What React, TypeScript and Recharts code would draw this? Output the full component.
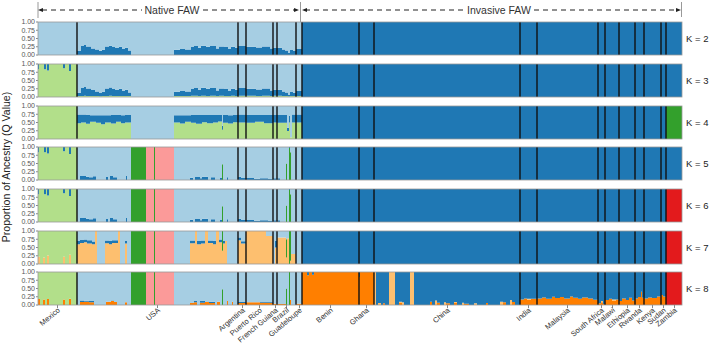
import React from "react";
import { BarChart, Bar, XAxis, YAxis, ReferenceLine } from "recharts";

type Key = "o" | "lo" | "lg" | "g" | "pk" | "r" | "db" | "lb";
type Q = Partial<Record<Key, number>>;
type Run = [number, Q];

// stacking order, bottom to top
const keys: Key[] = ["o", "lo", "lg", "g", "pk", "r", "db", "lb"];
const colors: Record<Key, string> = {
  o: "#ff7f00",
  lo: "#fdbf6f",
  lg: "#b2df8a",
  g: "#33a02c",
  pk: "#fb9a99",
  r: "#e31a1c",
  db: "#1f78b4",
  lb: "#a6cee3",
};

const populations = [
  "Mexico", "USA", "Argentina", "Puerto Rico", "French Guiana", "Brazil", "Guadeloupe",
  "Benin", "Ghana", "China", "India", "Malaysia", "South Africa", "Malawi", "Ethiopia",
  "Rwanda", "Kenya", "Sudan", "Zambia",
];
const popSizes = [39, 161, 8, 27, 4, 19, 6, 57, 15, 146, 17, 61, 7, 14, 16, 9, 17, 5, 16];
const kLabels = ["K = 2", "K = 3", "K = 4", "K = 5", "K = 6", "K = 7", "K = 8"];
const yTicks = [0, 0.25, 0.5, 0.75, 1];

// a run this long just fills whatever is left of its population
const REST = 1000;
const full = (q: Q): Run[] => [[REST, q]];
const invasive = (zambia: Run[]): Run[][] => [
  ...Array.from({ length: 11 }, () => full({ db: 1 })),
  zambia,
];

// ---- K = 2 ----
const k2UsaA: Run[] = [
  [4, { db: 0.12, lb: 0.88 }], [3, { db: 0.27, lb: 0.73 }], [2, { db: 0.3, lb: 0.7 }],
  [5, { db: 0.26, lb: 0.74 }], [4, { db: 0.2, lb: 0.8 }], [4, { db: 0.17, lb: 0.83 }],
  [3, { db: 0.13, lb: 0.87 }], [3, { db: 0.16, lb: 0.84 }], [4, { db: 0.26, lb: 0.74 }],
  [3, { db: 0.28, lb: 0.72 }], [3, { db: 0.24, lb: 0.76 }], [4, { db: 0.21, lb: 0.79 }],
  [3, { db: 0.25, lb: 0.75 }], [3, { db: 0.18, lb: 0.82 }], [3, { db: 0.22, lb: 0.78 }],
  [3, { db: 0.14, lb: 0.86 }],
];
const k2UsaB: Run[] = [
  [6, { db: 0.16, lb: 0.84 }], [5, { db: 0.18, lb: 0.82 }], [6, { db: 0.17, lb: 0.83 }],
  [3, { db: 0.24, lb: 0.76 }], [4, { db: 0.27, lb: 0.73 }], [3, { db: 0.22, lb: 0.78 }],
  [5, { db: 0.28, lb: 0.72 }], [4, { db: 0.25, lb: 0.75 }], [6, { db: 0.27, lb: 0.73 }],
  [3, { db: 0.2, lb: 0.8 }], [5, { db: 0.26, lb: 0.74 }], [4, { db: 0.24, lb: 0.76 }],
  [3, { db: 0.18, lb: 0.82 }], [4, { db: 0.25, lb: 0.75 }], [3, { db: 0.22, lb: 0.78 }],
];
const k2: Run[][] = [
  full({ lb: 1 }),
  [...k2UsaA, [43, { lb: 1 }], ...k2UsaB],
  [[8, { db: 0.27, lb: 0.73 }]],
  [[10, { db: 0.25, lb: 0.75 }], [6, { db: 0.23, lb: 0.77 }], [8, { db: 0.26, lb: 0.74 }], [3, { db: 0.2, lb: 0.8 }]],
  [[4, { db: 0.22, lb: 0.78 }]],
  [[5, { db: 0.22, lb: 0.78 }], [3, { db: 0.17, lb: 0.83 }], [3, { db: 0.14, lb: 0.86 }],
   [2, { db: 0.06, lb: 0.94 }], [3, { db: 0.15, lb: 0.85 }], [3, { db: 0.12, lb: 0.88 }]],
  [[6, { db: 0.18, lb: 0.82 }]],
  ...invasive(full({ db: 1 })),
];

// ---- K = 3 ----
const mexDbTop: Run[] = [
  [1, { lg: 0.84, db: 0.16 }], [5, { lg: 1 }], [2, { lg: 0.84, db: 0.16 }], [1, { lg: 1 }],
  [2, { lg: 0.8, db: 0.2 }], [14, { lg: 1 }], [2, { lg: 0.87, db: 0.13 }], [4, { lg: 1 }],
  [2, { lg: 0.79, db: 0.21 }], [6, { lg: 1 }],
];
const k3UsaA: Run[] = [
  [4, { lg: 0.03, db: 0.1, lb: 0.87 }], [3, { lg: 0.03, db: 0.24, lb: 0.73 }], [2, { lg: 0.04, db: 0.26, lb: 0.7 }],
  [5, { lg: 0.03, db: 0.23, lb: 0.74 }], [4, { lg: 0.03, db: 0.18, lb: 0.79 }], [4, { lg: 0.03, db: 0.14, lb: 0.83 }],
  [3, { lg: 0.02, db: 0.1, lb: 0.88 }], [3, { lg: 0.03, db: 0.13, lb: 0.84 }], [4, { lg: 0.03, db: 0.23, lb: 0.74 }],
  [3, { lg: 0.04, db: 0.25, lb: 0.71 }], [3, { lg: 0.03, db: 0.21, lb: 0.76 }], [4, { lg: 0.03, db: 0.18, lb: 0.79 }],
  [3, { lg: 0.03, db: 0.22, lb: 0.75 }], [3, { lg: 0.03, db: 0.15, lb: 0.82 }], [3, { lg: 0.03, db: 0.19, lb: 0.78 }],
  [3, { lg: 0.03, db: 0.11, lb: 0.86 }],
];
const k3UsaB: Run[] = [
  [6, { lg: 0.03, db: 0.13, lb: 0.84 }], [5, { lg: 0.03, db: 0.15, lb: 0.82 }], [6, { lg: 0.03, db: 0.14, lb: 0.83 }],
  [3, { lg: 0.04, db: 0.2, lb: 0.76 }], [4, { lg: 0.04, db: 0.23, lb: 0.73 }], [3, { lg: 0.03, db: 0.19, lb: 0.78 }],
  [5, { lg: 0.04, db: 0.24, lb: 0.72 }], [4, { lg: 0.03, db: 0.22, lb: 0.75 }], [6, { lg: 0.04, db: 0.23, lb: 0.73 }],
  [3, { lg: 0.03, db: 0.17, lb: 0.8 }], [5, { lg: 0.04, db: 0.22, lb: 0.74 }], [4, { lg: 0.03, db: 0.21, lb: 0.76 }],
  [3, { lg: 0.03, db: 0.15, lb: 0.82 }], [4, { lg: 0.04, db: 0.21, lb: 0.75 }], [3, { lg: 0.03, db: 0.19, lb: 0.78 }],
];
const k3: Run[][] = [
  mexDbTop,
  [...k3UsaA, [43, { lb: 1 }], ...k3UsaB],
  [[8, { lg: 0.04, db: 0.23, lb: 0.73 }]],
  [[10, { lg: 0.04, db: 0.21, lb: 0.75 }], [6, { lg: 0.03, db: 0.2, lb: 0.77 }],
   [8, { lg: 0.04, db: 0.22, lb: 0.74 }], [3, { lg: 0.03, db: 0.17, lb: 0.8 }]],
  [[4, { lg: 0.04, db: 0.18, lb: 0.78 }]],
  [[5, { lg: 0.04, db: 0.18, lb: 0.78 }], [3, { lg: 0.03, db: 0.14, lb: 0.83 }], [3, { lg: 0.03, db: 0.11, lb: 0.86 }],
   [2, { lg: 0.02, db: 0.04, lb: 0.94 }], [3, { lg: 0.03, db: 0.12, lb: 0.85 }], [3, { lg: 0.03, db: 0.1, lb: 0.87 }]],
  [[6, { lg: 0.03, db: 0.15, lb: 0.82 }]],
  ...invasive(full({ db: 1 })),
];

// ---- K = 4 ----
const k4UsaA: Run[] = [
  [4, { lg: 0.48, db: 0.26, lb: 0.26 }], [5, { lg: 0.5, db: 0.24, lb: 0.26 }], [4, { lg: 0.46, db: 0.27, lb: 0.27 }],
  [6, { lg: 0.52, db: 0.2, lb: 0.28 }], [5, { lg: 0.49, db: 0.23, lb: 0.28 }], [4, { lg: 0.45, db: 0.27, lb: 0.28 }],
  [6, { lg: 0.5, db: 0.22, lb: 0.28 }], [5, { lg: 0.47, db: 0.26, lb: 0.27 }], [5, { lg: 0.52, db: 0.21, lb: 0.27 }],
  [4, { lg: 0.48, db: 0.24, lb: 0.28 }], [6, { lg: 0.5, db: 0.23, lb: 0.27 }],
];
const k4UsaB: Run[] = [
  [6, { lg: 0.5, db: 0.22, lb: 0.28 }], [5, { lg: 0.47, db: 0.25, lb: 0.28 }], [6, { lg: 0.52, db: 0.2, lb: 0.28 }],
  [5, { lg: 0.49, db: 0.24, lb: 0.27 }], [6, { lg: 0.46, db: 0.27, lb: 0.27 }], [5, { lg: 0.51, db: 0.22, lb: 0.27 }],
  [6, { lg: 0.48, db: 0.25, lb: 0.27 }], [5, { lg: 0.5, db: 0.23, lb: 0.27 }], [4, { lg: 0.53, db: 0.2, lb: 0.27 }],
  [1, { lg: 0.28, db: 0.12, lb: 0.6 }], [5, { lg: 0.49, db: 0.24, lb: 0.27 }], [5, { lg: 0.47, db: 0.25, lb: 0.28 }],
  [5, { lg: 0.51, db: 0.22, lb: 0.27 }],
];
const k4: Run[][] = [
  full({ lg: 1 }),
  [...k4UsaA, [43, { lb: 1 }], ...k4UsaB],
  [[8, { lg: 0.5, db: 0.24, lb: 0.26 }]],
  [[9, { lg: 0.49, db: 0.24, lb: 0.27 }], [9, { lg: 0.52, db: 0.21, lb: 0.27 }], [9, { lg: 0.48, db: 0.25, lb: 0.27 }]],
  [[4, { lg: 0.5, db: 0.23, lb: 0.27 }]],
  [[10, { lg: 0.49, db: 0.24, lb: 0.27 }], [2, { lg: 0.24, db: 0.1, lb: 0.66 }], [1, { lg: 0.5, db: 0.2, lb: 0.3 }],
   [2, { lg: 0.05, lb: 0.95 }], [4, { lg: 0.5, db: 0.24, lb: 0.26 }]],
  [[6, { lg: 0.5, db: 0.24, lb: 0.26 }]],
  ...invasive(full({ g: 1 })),
];

// ---- K = 5 / K = 6 ----
const usaMid: Run[] = [[15, { g: 1 }], [8, { pk: 1 }], [1, { g: 1 }], [19, { pk: 1 }]];
const k5UsaA: Run[] = [
  [3, { lb: 1 }], [6, { db: 0.12, lb: 0.88 }], [3, { db: 0.1, lb: 0.9 }], [4, { db: 0.08, lb: 0.92 }],
  [3, { db: 0.11, lb: 0.89 }], [10, { lb: 1 }], [2, { db: 0.09, lb: 0.91 }], [2, { lb: 1 }],
  [3, { db: 0.12, lb: 0.88 }], [4, { db: 0.08, lb: 0.92 }], [9, { lb: 1 }], [1, { db: 0.12, lb: 0.88 }],
  [4, { lb: 1 }],
];
const k5UsaB: Run[] = [
  [16, { lb: 1 }], [3, { db: 0.07, lb: 0.93 }], [2, { lb: 1 }], [5, { db: 0.09, lb: 0.91 }],
  [2, { db: 0.05, lb: 0.95 }], [6, { db: 0.1, lb: 0.9 }], [3, { lb: 1 }], [4, { db: 0.08, lb: 0.92 }],
  [5, { lb: 1 }], [2, { db: 0.06, lb: 0.94 }], [1, { g: 0.48, lb: 0.52 }], [4, { lb: 1 }],
  [1, { db: 0.08, lb: 0.92 }], [10, { lb: 1 }],
];
const k5Native: Run[][] = [
  mexDbTop,
  [...k5UsaA, ...usaMid, ...k5UsaB],
  [[3, { db: 0.1, lb: 0.9 }], [5, { db: 0.06, lb: 0.94 }]],
  [[8, { db: 0.06, lb: 0.94 }], [6, { db: 0.04, lb: 0.96 }], [8, { db: 0.05, lb: 0.95 }], [5, { db: 0.03, lb: 0.97 }]],
  [[4, { db: 0.05, lb: 0.95 }]],
  [[3, { db: 0.05, lb: 0.95 }], [6, { lb: 1 }], [1, { g: 0.5, lb: 0.5 }], [2, { lb: 1 }],
   [1, { g: 0.97, db: 0.03 }], [1, { g: 0.84, lb: 0.16 }], [5, { lb: 1 }]],
  [[6, { lb: 1 }]],
];
const k5: Run[][] = [...k5Native, ...invasive(full({ db: 1 }))];
const k6: Run[][] = [...k5Native, ...invasive(full({ r: 1 }))];

// ---- K = 7 ----
const k7UsaA: Run[] = [
  [3, { lo: 0.6, db: 0.1, lb: 0.3 }], [4, { lo: 0.64, db: 0.09, lb: 0.27 }], [3, { lo: 0.66, db: 0.08, lb: 0.26 }],
  [5, { lo: 0.62, db: 0.1, lb: 0.28 }], [3, { lo: 0.6, db: 0.08, lb: 0.32 }], [2, { lo: 1 }], [8, { lb: 1 }],
  [4, { lo: 0.63, db: 0.08, lb: 0.29 }], [3, { lo: 0.6, db: 0.1, lb: 0.3 }], [6, { lo: 0.64, db: 0.08, lb: 0.28 }],
  [2, { lo: 1 }], [5, { lb: 1 }], [2, { lo: 0.62, db: 0.08, lb: 0.3 }], [4, { lb: 1 }],
];
const k7UsaB: Run[] = [
  [16, { lb: 1 }], [5, { lo: 0.63, db: 0.08, lb: 0.29 }], [2, { lo: 1 }], [4, { lo: 0.6, db: 0.1, lb: 0.3 }],
  [4, { lo: 0.62, db: 0.09, lb: 0.29 }], [3, { lo: 1 }], [5, { lo: 0.64, db: 0.07, lb: 0.29 }],
  [3, { lo: 0.6, db: 0.1, lb: 0.3 }], [3, { lo: 1 }], [3, { lo: 0.66, db: 0.08, lb: 0.26 }],
  [1, { lo: 0.4, g: 0.6 }], [2, { lo: 0.62, db: 0.08, lb: 0.3 }], [2, { lo: 0.7, lb: 0.3 }], [11, { lb: 1 }],
];
const k7: Run[][] = [
  [[2, { lo: 0.22, lg: 0.78 }], [3, { lg: 1 }], [2, { lo: 0.2, lg: 0.8 }], [2, { lg: 1 }],
   [2, { lo: 0.26, lg: 0.74 }], [14, { lg: 1 }], [2, { lo: 0.22, lg: 0.78 }], [4, { lg: 1 }],
   [2, { lo: 0.28, lg: 0.72 }], [6, { lg: 1 }]],
  [...k7UsaA, ...usaMid, ...k7UsaB],
  [[3, { lo: 0.72, db: 0.08, lb: 0.2 }], [5, { lo: 0.62, db: 0.07, lb: 0.31 }]],
  [[20, { lo: 1 }], [7, { lo: 0.85, lb: 0.15 }]],
  [[2, { lb: 1 }], [2, { lo: 0.5, db: 0.2, lb: 0.3 }]],
  [[9, { lo: 0.8, lb: 0.2 }], [1, { lo: 0.2, g: 0.55, lb: 0.25 }], [2, { lo: 0.78, lb: 0.22 }],
   [1, { g: 1 }], [1, { lo: 0.1, g: 0.9 }], [5, { lo: 0.3, lb: 0.7 }]],
  [[6, { lb: 1 }]],
  ...invasive(full({ r: 1 })),
];

// ---- K = 8 ----
const k8UsaA: Run[] = [
  [3, { lb: 1 }], [4, { o: 0.09, db: 0.05, lb: 0.86 }], [5, { o: 0.1, db: 0.03, lb: 0.87 }],
  [5, { o: 0.08, db: 0.04, lb: 0.88 }], [12, { lb: 1 }], [5, { o: 0.1, lb: 0.9 }],
  [3, { o: 0.12, db: 0.02, lb: 0.86 }], [3, { o: 0.09, lb: 0.91 }], [8, { lb: 1 }],
  [2, { o: 0.08, lb: 0.92 }], [4, { lb: 1 }],
];
const k8UsaB: Run[] = [
  [16, { lb: 1 }], [4, { o: 0.06, lb: 0.94 }], [3, { o: 0.08, db: 0.04, lb: 0.88 }], [3, { lb: 1 }],
  [5, { o: 0.07, db: 0.05, lb: 0.88 }], [4, { o: 0.09, lb: 0.91 }], [6, { o: 0.06, db: 0.04, lb: 0.9 }],
  [2, { lb: 1 }], [3, { o: 0.1, lb: 0.9 }], [2, { lb: 1 }], [1, { g: 0.48, lb: 0.52 }], [4, { lb: 1 }],
  [1, { o: 0.12, lb: 0.88 }], [4, { lb: 1 }], [1, { o: 0.1, lb: 0.9 }], [5, { lb: 1 }],
];
const k8China: Run[] = [
  [2, { lo: 1 }], [2, { db: 1 }], [3, { lo: 0.06, db: 0.94 }], [2, { db: 1 }], [2, { o: 0.05, db: 0.95 }],
  [4, { db: 1 }], [6, { lo: 1 }], [4, { db: 1 }], [3, { o: 0.06, lo: 0.04, db: 0.9 }], [2, { lo: 0.08, db: 0.92 }],
  [6, { db: 1 }], [4, { lo: 1 }], [16, { db: 1 }], [2, { o: 0.1, db: 0.9 }], [3, { db: 1 }],
  [2, { lo: 0.14, db: 0.86 }], [3, { o: 0.07, db: 0.93 }], [4, { db: 1 }], [2, { lo: 0.08, db: 0.92 }],
  [4, { o: 0.05, db: 0.95 }], [4, { db: 1 }], [3, { o: 0.06, lo: 0.03, db: 0.91 }], [5, { db: 1 }],
  [2, { lo: 0.07, db: 0.93 }], [5, { o: 0.04, db: 0.96 }], [5, { db: 1 }], [3, { lo: 0.05, db: 0.95 }],
  [9, { db: 1 }], [2, { o: 0.06, db: 0.94 }], [12, { db: 1 }], [3, { lo: 0.1, db: 0.9 }],
  [3, { o: 0.08, db: 0.92 }], [4, { db: 1 }], [2, { lo: 0.15, db: 0.85 }], [3, { o: 0.09, db: 0.91 }],
  [5, { db: 1 }],
];
const k8: Run[][] = [
  [[2, { o: 0.18, lg: 0.82 }], [3, { lg: 1 }], [2, { o: 0.17, lg: 0.83 }], [2, { lg: 1 }],
   [2, { o: 0.18, lg: 0.82 }], [14, { lg: 1 }], [2, { o: 0.17, lg: 0.83 }], [4, { lg: 1 }],
   [2, { o: 0.19, lg: 0.81 }], [6, { lg: 1 }]],
  [...k8UsaA, ...usaMid, ...k8UsaB],
  [[8, { o: 0.06, db: 0.03, lb: 0.91 }]],
  [[14, { o: 0.08, lb: 0.92 }], [13, { o: 0.07, db: 0.02, lb: 0.91 }]],
  [[4, { o: 0.04, lb: 0.96 }]],
  [[9, { o: 0.03, lb: 0.97 }], [1, { g: 0.5, lb: 0.5 }], [2, { lb: 1 }], [1, { g: 1 }],
   [1, { o: 0.15, lb: 0.85 }], [5, { lb: 1 }]],
  [[6, { o: 0.04, lb: 0.96 }]],
  [[5, { o: 1 }], [2, { o: 0.9, db: 0.1 }], [3, { o: 1 }], [2, { o: 0.92, db: 0.08 }], [45, { o: 1 }]],
  [[1, { o: 0.85, db: 0.15 }], [14, { o: 1 }]],
  k8China,
  [[4, { o: 0.17, db: 0.83 }], [3, { o: 0.2, db: 0.8 }], [4, { o: 0.16, lo: 0.03, db: 0.81 }], [6, { o: 0.19, db: 0.81 }]],
  [[5, { o: 0.2, db: 0.8 }], [4, { o: 0.23, db: 0.77 }], [6, { o: 0.19, db: 0.81 }], [3, { o: 0.25, db: 0.75 }],
   [5, { o: 0.21, db: 0.79 }], [4, { o: 0.24, db: 0.76 }], [6, { o: 0.2, db: 0.8 }], [3, { o: 0.26, db: 0.74 }],
   [5, { o: 0.22, db: 0.78 }], [4, { o: 0.19, db: 0.81 }], [6, { o: 0.23, db: 0.77 }], [5, { o: 0.2, db: 0.8 }],
   [5, { o: 0.16, db: 0.84 }]],
  [[3, { o: 0.05, db: 0.95 }], [2, { o: 0.08, lo: 0.04, db: 0.88 }], [2, { o: 0.03, db: 0.97 }]],
  [[4, { o: 0.15, db: 0.85 }], [3, { o: 0.19, db: 0.81 }], [4, { o: 0.14, lo: 0.03, db: 0.83 }], [3, { o: 0.17, db: 0.83 }]],
  [[3, { o: 0.12, db: 0.88 }], [4, { o: 0.2, db: 0.8 }], [3, { o: 0.15, db: 0.85 }], [3, { o: 0.22, db: 0.78 }], [3, { o: 0.14, db: 0.86 }]],
  [[3, { o: 0.2, db: 0.8 }], [3, { o: 0.24, db: 0.76 }], [1, { o: 0.4, db: 0.6 }], [2, { o: 0.22, db: 0.78 }]],
  [[4, { o: 0.2, db: 0.8 }], [4, { o: 0.23, db: 0.77 }], [5, { o: 0.21, db: 0.79 }], [4, { o: 0.26, db: 0.74 }]],
  [[2, { o: 0.3, db: 0.7 }], [3, { o: 0.26, db: 0.74 }]],
  full({ r: 1 }),
];

const panels = [k2, k3, k4, k5, k6, k7, k8];

// one row per individual, in population order
function buildRows(pops: Run[][]) {
  const rows: Record<string, number>[] = [];
  pops.forEach((runs, p) => {
    let left = popSizes[p];
    let last: Q = {};
    for (const [n, q] of runs) {
      const take = Math.min(n, left);
      for (let j = 0; j < take; j++) rows.push(makeRow(rows.length, q));
      left -= take;
      last = q;
      if (left <= 0) break;
    }
    while (left-- > 0) rows.push(makeRow(rows.length, last));
  });
  return rows;
}

function makeRow(i: number, q: Q) {
  const row: Record<string, number> = { i };
  keys.forEach((k) => (row[k] = q[k] ?? 0));
  return row;
}

const popStarts: number[] = [];
const centerNames = new Map<number, string>();
popSizes.reduce((acc, n, p) => {
  popStarts.push(acc);
  centerNames.set(acc + Math.floor(n / 2), populations[p]);
  return acc + n;
}, 0);

const panelTops = [22, 64, 106, 147, 189, 231, 272];
const PLOT_H = 33;
const PLOT_L = 38;
const PLOT_W = 644;
const PAD = 5;

const PopTick = (props: any) => {
  const { x, y, payload } = props;
  const name = centerNames.get(payload.value);
  if (!name) return <g />;
  return (
    <g transform={`translate(${x},${y})`}>
      <line x1={0} x2={0} y1={0} y2={3} stroke="#666" strokeWidth={0.8} />
      <text
        transform="translate(3,6) rotate(-40)"
        textAnchor="end"
        fontSize={7.5}
        fill="#333"
      >
        {name}
      </text>
    </g>
  );
};

const Panel = ({ pops, last }: { pops: Run[][]; last: boolean }) => {
  const rows = buildRows(pops);
  return (
    <BarChart
      width={709}
      height={PLOT_H + PAD + (last ? 40 : PAD)}
      data={rows}
      margin={{ top: PAD, right: 709 - PLOT_L - PLOT_W, bottom: last ? 0 : PAD, left: 0 }}
      barCategoryGap={0}
      barGap={0}
    >
      <XAxis
        dataKey="i"
        hide={!last}
        interval={0}
        height={40}
        axisLine={false}
        tickLine={false}
        tickSize={0}
        tickMargin={0}
        tick={<PopTick />}
      />
      <YAxis
        type="number"
        domain={[0, 1]}
        ticks={yTicks}
        interval={0}
        width={PLOT_L}
        tickFormatter={(v: number) => v.toFixed(2)}
        tick={{ fontSize: 7, fill: "#555" }}
        tickSize={2}
        tickMargin={1}
        tickLine={{ stroke: "#888" }}
        axisLine={false}
      />
      {keys.map((k) => (
        <Bar key={k} dataKey={k} stackId="q" fill={colors[k]} isAnimationActive={false} />
      ))}
      {popStarts.slice(1).map((s) => (
        <ReferenceLine key={s} x={s} position="start" stroke="#111" strokeWidth={1.4} />
      ))}
    </BarChart>
  );
};

const Header = () => (
  <svg
    width={709}
    height={346}
    style={{ position: "absolute", left: 0, top: 0, pointerEvents: "none" }}
  >
    <g stroke="#999" strokeWidth={1}>
      <line x1={38} x2={38} y1={2} y2={18} />
      <line x1={300.5} x2={300.5} y1={2} y2={22} />
      <line x1={681.5} x2={681.5} y1={2} y2={17} />
    </g>
    <g stroke="#222" strokeWidth={1} strokeDasharray="5 4">
      <line x1={42} x2={142} y1={10} y2={10} />
      <line x1={203} x2={296} y1={10} y2={10} />
      <line x1={305} x2={465} y1={10} y2={10} />
      <line x1={534} x2={678} y1={10} y2={10} />
    </g>
    <g fill="#222">
      <polygon points="38,10 43,8 43,12" />
      <polygon points="299,10 294,8 294,12" />
      <polygon points="302,10 307,8 307,12" />
      <polygon points="681,10 676,8 676,12" />
    </g>
    <g fontSize={10.5} fill="#333" textAnchor="middle">
      <text x={172} y={14}>Native FAW</text>
      <text x={499} y={14}>Invasive FAW</text>
    </g>
    {panelTops.map((t, idx) => (
      <g key={t}>
        <rect x={PLOT_L} y={t} width={PLOT_W} height={PLOT_H} fill="none" stroke="#9a9a9a" strokeWidth={0.8} />
        <text x={686} y={t + PLOT_H / 2 + 3.5} fontSize={9.5} fill="#222">
          {kLabels[idx]}
        </text>
      </g>
    ))}
    <text
      transform="translate(10,167) rotate(-90)"
      textAnchor="middle"
      fontSize={10.5}
      fill="#222"
    >
      Proportion of Ancestry (Q Value)
    </text>
  </svg>
);

export default function App() {
  return (
    <div
      style={{
        position: "relative",
        width: 709,
        height: 346,
        background: "#fff",
        fontFamily: "'Liberation Sans', Arial, sans-serif",
        overflow: "hidden",
      }}
    >
      <style>{"body{margin:0}"}</style>
      {panels.map((pops, idx) => (
        <div key={idx} style={{ position: "absolute", left: 0, top: panelTops[idx] - PAD }}>
          <Panel pops={pops} last={idx === panels.length - 1} />
        </div>
      ))}
      <Header />
    </div>
  );
}
